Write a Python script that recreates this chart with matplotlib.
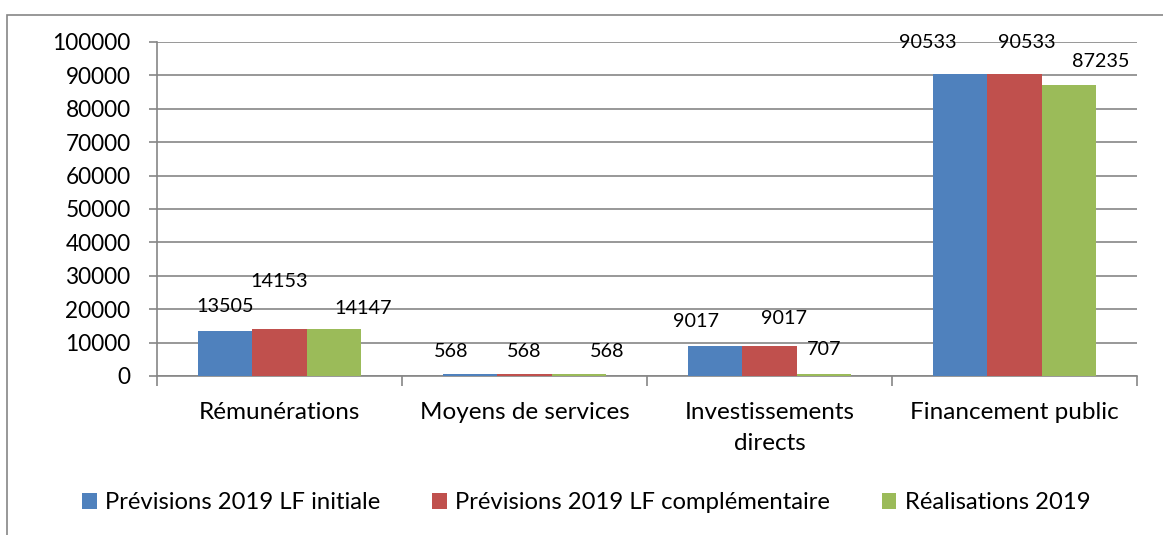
import matplotlib
matplotlib.use('Agg')
import matplotlib.pyplot as plt
from matplotlib.patches import Rectangle
import numpy as np

plt.rcParams['font.family'] = ['Lato', 'DejaVu Sans']

categories = ['Rémunérations', 'Moyens de services', 'Investissements\ndirects', 'Financement public']
series_names = ['Prévisions 2019 LF initiale', 'Prévisions 2019 LF complémentaire', 'Réalisations 2019']
initiale = [13505, 568, 9017, 90533]
complementaire = [14153, 568, 9017, 90533]
realisations = [14147, 568, 707, 87235]

colors = ['#4F81BD', '#C0504D', '#9BBB59']
# label offsets from bar top (pixels), as Excel placed them
label_dx = [[0, -19, -19, -32], [0, 0, 15, 12], [29, 28, 0, 32]]
label_dy = [[24, 23, 24, 31], [47, 23, 27, 31], [20, 23, 24, 23]]

fig = plt.figure(figsize=(11.63, 5.35), dpi=100)
ax = fig.add_axes([157 / 1163, 1 - 376 / 535, (1137 - 157) / 1163, (376 - 42) / 535])

# outer chart border (cut off on the right and bottom like the screenshot)
fig.patches.append(Rectangle((7 / 1163, -0.05), 1.2, 1 - 15 / 535 + 0.05,
                             transform=fig.transFigure, fill=False,
                             edgecolor='#868686', lw=1.2))

x = np.arange(len(categories))
w = 0.223
data = [initiale, complementaire, realisations]
for i, vals in enumerate(data):
    bars = ax.bar(x + (i - 1) * w, vals, w, color=colors[i], label=series_names[i], zorder=3)
    for j, b in enumerate(bars):
        ax.annotate(str(vals[j]), (b.get_x() + b.get_width() / 2, b.get_height()),
                    xytext=(label_dx[i][j] * 0.72, label_dy[i][j] * 0.72),
                    textcoords='offset points',
                    ha='center', va='center', fontsize=14.2, color='black', zorder=4)

ax.set_xlim(-0.5, 3.5)
ax.set_ylim(0, 100000)
ax.set_yticks(range(0, 100001, 10000))
ax.yaxis.grid(True, color='#868686', lw=1.2, zorder=0)
ax.set_axisbelow(True)

ax.set_xticks(x)
ax.set_xticklabels(categories, fontsize=17.5, linespacing=1.55)
ax.tick_params(axis='x', length=0, pad=19)
ax.set_xticks(np.arange(-0.5, 4, 1), minor=True)
ax.tick_params(axis='x', which='minor', length=7, width=1.2, color='#868686')
ax.tick_params(axis='y', length=6, width=1.2, color='#868686', labelsize=16.3, pad=13)

for s in ['top', 'right']:
    ax.spines[s].set_visible(False)
for s in ['left', 'bottom']:
    ax.spines[s].set_color('#868686')
    ax.spines[s].set_linewidth(1.2)

ax.legend(loc='center', bbox_to_anchor=(0.438, -0.38), ncol=3, frameon=False,
          fontsize=17.2, handlelength=0.6, handleheight=0.6, handletextpad=0.35,
          columnspacing=2.18)

fig.savefig('out.png', dpi=100)
